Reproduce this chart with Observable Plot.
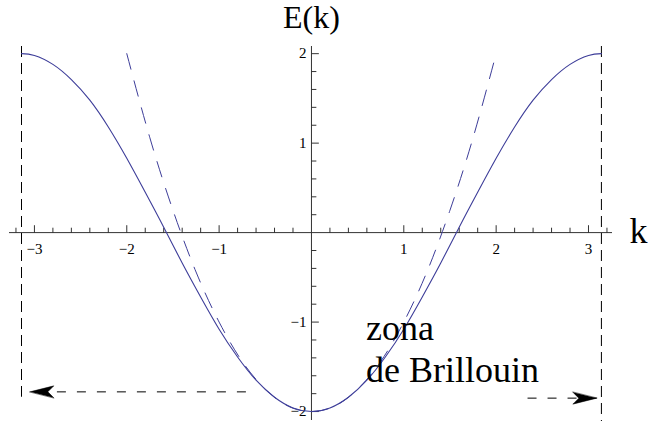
<!DOCTYPE html>
<html>
<head>
<meta charset="utf-8">
<script src="https://cdn.jsdelivr.net/npm/d3@7"></script>
<script src="https://cdn.jsdelivr.net/npm/@observablehq/plot@0.6"></script>
<style>
  html, body { margin: 0; padding: 0; background: #fff; }
  #chart svg { display: block; }
  #chart svg, #chart svg text, #chart svg tspan { font-family: "Liberation Serif", serif !important; }
</style>
</head>
<body>
<div id="chart"></div>
<script>
// Tight-binding band E(k) over the first Brillouin zone
const bandK = [-3.14, -3.0, -2.8, -2.6, -2.4, -2.2, -2.0, -1.8, -1.6, -1.4, -1.2, -1.0, -0.8, -0.6, -0.4, -0.2, 0,
               0.2, 0.4, 0.6, 0.8, 1.0, 1.2, 1.4, 1.6, 1.8, 2.0, 2.2, 2.4, 2.6, 2.8, 3.0, 3.14];
const bandE = [2.00, 1.98, 1.88, 1.71, 1.48, 1.18, 0.83, 0.45, 0.06, -0.34, -0.72, -1.08, -1.39, -1.65, -1.84, -1.96, -2.00,
               -1.96, -1.84, -1.65, -1.39, -1.08, -0.72, -0.34, 0.06, 0.45, 0.83, 1.18, 1.48, 1.71, 1.88, 1.98, 2.00];

// Free-particle parabola near the band bottom (dashed)
const freeK = [-2, -1.75, -1.5, -1.25, -1, -0.75, -0.5, -0.25, 0, 0.25, 0.5, 0.75, 1, 1.25, 1.5, 1.75, 2];
const freeE = [2.00, 1.06, 0.25, -0.44, -1.00, -1.44, -1.75, -1.94, -2.00, -1.94, -1.75, -1.44, -1.00, -0.44, 0.25, 1.06, 2.00];

// Axis tick labels
const xTickValues = [-3, -2, -1, 1, 2, 3];
const yTickValues = [-2, -1, 1, 2];

// Zone edges at ±π and the arrows pointing to them
const zoneEdgeK = [-3.14, 3.14];
const zoneEdgeTop = [2.08, 2.08];
const zoneEdgeBottom = [-1.84, -2.12];
const arrowFromK = [-0.71, 2.34];
const arrowToK = [-3.05, 3.09];
const arrowE = [-1.78, -1.85];

const band = bandK.map((k, i) => ({k, E: bandE[i]}));
const free = freeK.map((k, i) => ({k, E: freeE[i]}));
const edges = zoneEdgeK.map((k, i) => ({k, top: zoneEdgeTop[i], bottom: zoneEdgeBottom[i]}));
const arrows = arrowFromK.map((k, i) => ({from: k, to: arrowToK[i], E: arrowE[i],
                                          angle: arrowToK[i] < k ? -90 : 90}));

const isMinor = v => Math.abs(v - Math.round(v)) > 1e-6;
const xMinor = d3.ticks(-3.2, 3.2, 32).filter(isMinor);
const yMinor = d3.ticks(-2, 2, 20).filter(isMinor);
const fmt = v => (v < 0 ? "\u2212" + Math.abs(v) : String(v));

// Vector shapes: a plain tick stroke and a filled, notched arrowhead
const tickShape = {draw(ctx, l) { ctx.moveTo(0, 0); ctx.lineTo(0, -l); }};
const headShape = {draw(ctx, l) {
  const w = 6;
  ctx.moveTo(0, -l);
  ctx.lineTo(w, 0);
  ctx.lineTo(0, -l * 0.25);
  ctx.lineTo(-w, 0);
  ctx.closePath();
}};

const axisColor = "#333";
const curveColor = "#3d3d99";
const serif = "Liberation Serif";

const chart = Plot.plot({
  width: 648,
  height: 421,
  marginLeft: 9,
  marginRight: 36,
  marginTop: 46,
  marginBottom: 1,
  style: "font-family: Liberation Serif; background: #fff; overflow: visible;",
  x: {domain: [-3.27, 3.26], axis: null},
  y: {domain: [-2.1, 2.08], axis: null},
  marks: [
    // axes through the origin
    Plot.ruleY([0], {stroke: axisColor, strokeWidth: 1}),
    Plot.ruleX([0], {stroke: axisColor, strokeWidth: 1}),
    Plot.vector(xMinor, {x: d => d, y: 0, length: 4.5, anchor: "start", shape: tickShape, stroke: axisColor, strokeWidth: 1}),
    Plot.vector(xTickValues, {x: d => d, y: 0, length: 7, anchor: "start", shape: tickShape, stroke: axisColor, strokeWidth: 1}),
    Plot.vector(yMinor, {x: 0, y: d => d, rotate: 90, length: 4.5, anchor: "start", shape: tickShape, stroke: axisColor, strokeWidth: 1}),
    Plot.vector(yTickValues, {x: 0, y: d => d, rotate: 90, length: 7, anchor: "start", shape: tickShape, stroke: axisColor, strokeWidth: 1}),
    Plot.text(xTickValues, {x: d => d, y: 0, text: fmt, dy: 17, fontSize: 15, fontFamily: serif, fill: "#000"}),
    Plot.text(yTickValues, {x: 0, y: d => d, text: fmt, dx: -5, textAnchor: "end", fontSize: 15, fontFamily: serif, fill: "#000"}),

    // zone edges and arrows
    Plot.ruleX(edges, {x: "k", y1: "top", y2: "bottom", stroke: "#000", strokeWidth: 1, strokeDasharray: "11,6"}),
    Plot.link(arrows, {x1: "from", x2: "to", y1: "E", y2: "E", stroke: "#000", strokeWidth: 1, strokeDasharray: "9,11"}),
    Plot.vector(arrows, {x: "to", y: "E", rotate: "angle", length: 24, anchor: "end", shape: headShape, fill: "#000", stroke: "#000", strokeWidth: 0.5}),

    // free-particle parabola and the band
    Plot.line(free, {x: "k", y: "E", curve: "natural", stroke: curveColor, strokeWidth: 1, strokeDasharray: "16,12"}),
    Plot.line(band, {x: "k", y: "E", curve: "natural", stroke: curveColor, strokeWidth: 1.1}),

    // labels
    Plot.text(["E(k)"], {x: 0, frameAnchor: "top", text: d => d, dy: -19, lineAnchor: "bottom", fontSize: 32, fontFamily: serif, fill: "#000"}),
    Plot.text(["k"], {frameAnchor: "right", y: 0, text: d => d, dx: 17, dy: 10, textAnchor: "start", lineAnchor: "bottom", fontSize: 36, fontFamily: serif, fill: "#000"}),
    Plot.text(["zona\nde Brillouin"], {x: 0.59, y: -1.67, text: d => d, textAnchor: "start", lineAnchor: "bottom", lineHeight: 1.17, fontSize: 36, fontFamily: serif, fill: "#000"})
  ]
});

// keep the serif face on every label
chart.querySelectorAll("text, tspan").forEach(t => t.style.setProperty("font-family", "'Liberation Serif', serif", "important"));

document.getElementById("chart").appendChild(chart);
</script>
</body>
</html>
